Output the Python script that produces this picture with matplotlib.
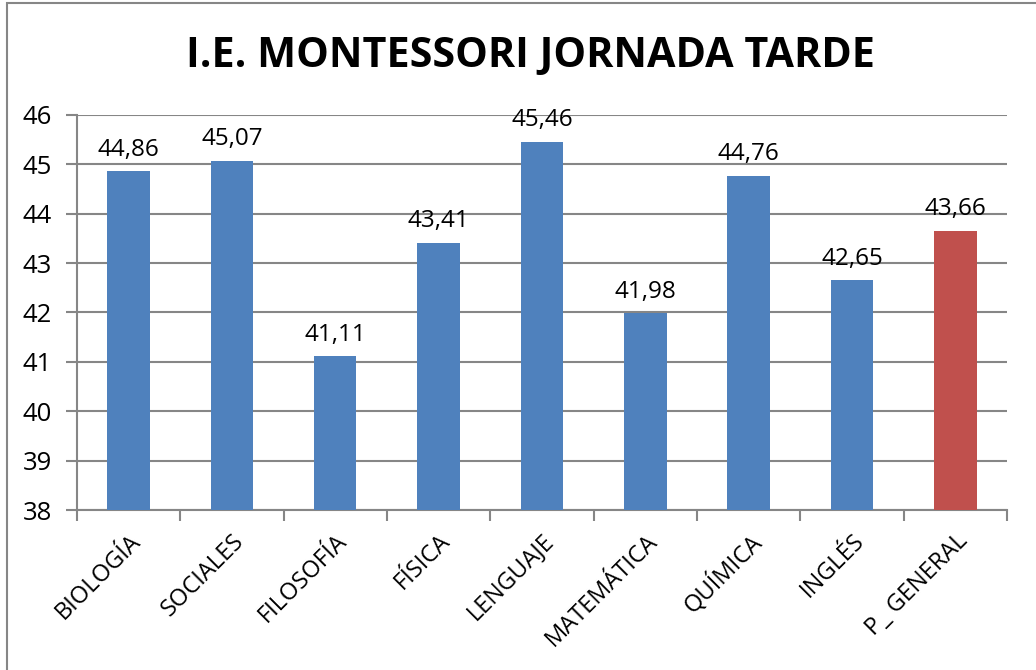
import matplotlib
matplotlib.use("Agg")
import matplotlib.pyplot as plt
from matplotlib.patches import Rectangle

plt.rcParams["font.family"] = ["Open Sans", "DejaVu Sans"]

# Datos
materias = ["BIOLOGÍA", "SOCIALES", "FILOSOFÍA", "FÍSICA", "LENGUAJE",
            "MATEMÁTICA", "QUÍMICA", "INGLÉS", "P_ GENERAL"]
puntajes = [44.86, 45.07, 41.11, 43.41, 45.46, 41.98, 44.76, 42.65, 43.66]
colores = ["#4F81BD"] * 8 + ["#C0504D"]
y_ticks = [38, 39, 40, 41, 42, 43, 44, 45, 46]

fig = plt.figure(figsize=(10.36, 6.70), dpi=100)
ax = fig.add_axes([0.0743, 0.2388, 0.8977, 0.5896])

x = list(range(len(materias)))
ax.bar(x, [p - 38 for p in puntajes], bottom=38, width=0.41,
       color=colores, zorder=3)

# Etiquetas de valor
for xi, p in zip(x, puntajes):
    ax.annotate(f"{p:.2f}".replace(".", ","), (xi, p),
                xytext=(0, 7), textcoords="offset points",
                ha="center", va="bottom", fontsize=17.5)

ax.set_xlim(-0.5, len(materias) - 0.5)
ax.set_ylim(38, 46)
ax.set_yticks(y_ticks)
ax.set_yticklabels([str(t) for t in y_ticks], fontsize=18.5)
ax.grid(axis="y", color="#868686", linewidth=1.5, zorder=0)

# Ticks del eje x entre categorias
ax.set_xticks([i - 0.5 for i in range(len(materias) + 1)])
ax.set_xticklabels([])
ax.set_xticks(x, minor=True)
ax.set_xticklabels(materias, minor=True, rotation=45, ha="right",
                   va="top", rotation_mode="anchor", fontsize=17)
ax.tick_params(axis="x", which="minor", length=0, pad=14)
ax.tick_params(axis="x", which="major", length=8, width=1.5,
               color="#868686", direction="out")
ax.tick_params(axis="y", length=8, width=1.5, color="#868686",
               direction="out", pad=10)

for s in ["top", "right"]:
    ax.spines[s].set_visible(False)
ax.spines["left"].set_color("#868686")
ax.spines["left"].set_linewidth(1.5)
ax.spines["bottom"].set_color("#868686")
ax.spines["bottom"].set_linewidth(1.5)

fig.text(0.512, 0.915, "I.E. MONTESSORI JORNADA TARDE", ha="center",
         va="center", fontsize=29.7, fontweight="bold")

# Borde del grafico
fig.patches.append(Rectangle((7 / 1036, -0.1), 1.2, 1.1 - 3 / 670,
                             transform=fig.transFigure, fill=False,
                             edgecolor="#868686", linewidth=1.5))

fig.savefig("out.png", dpi=100)
